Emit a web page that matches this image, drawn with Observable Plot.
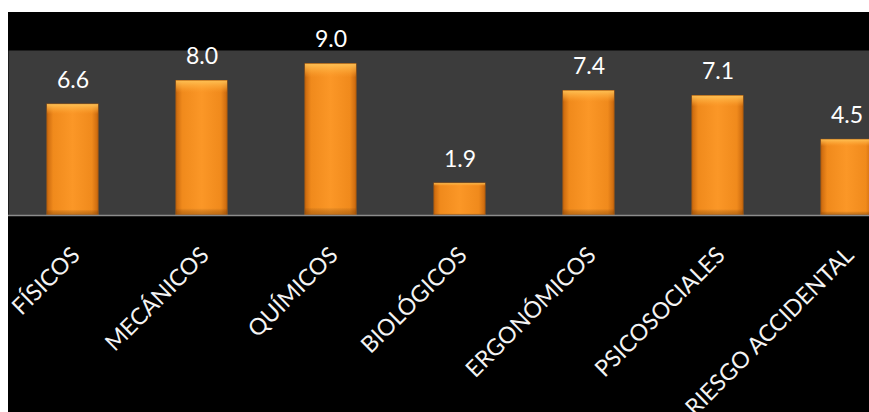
<!DOCTYPE html>
<html><head><meta charset="utf-8">
<script src="https://cdn.jsdelivr.net/npm/d3@7"></script>
<script src="https://cdn.jsdelivr.net/npm/@observablehq/plot@0.6"></script>
<style>
html,body{margin:0;padding:0;background:#fff;overflow:hidden;width:869px;height:412px}
#chart{position:absolute;left:8px;top:12px;width:861px;height:400px;background:#000;overflow:hidden}
</style></head><body><div id="chart"></div>
<script>
const categories = ["FÍSICOS", "MECÁNICOS", "QUÍMICOS", "BIOLÓGICOS", "ERGONÓMICOS", "PSICOSOCIALES", "RIESGO ACCIDENTAL"];
const values = [6.6, 8.0, 9.0, 1.9, 7.4, 7.1, 4.5];
const data = categories.map((c, i) => ({category: c, value: values[i]}));

const plot = Plot.plot({
  width: 861, height: 400,
  marginTop: 38, marginBottom: 197, marginLeft: 0, marginRight: 0,
  style: {background: "#000", color: "#fff", fontFamily: "Lato, sans-serif", overflow: "hidden"},
  x: {domain: categories, range: [0, 903], paddingInner: 0.605, paddingOuter: 0.302, axis: null},
  y: {domain: [0, 9.82], axis: null},
  marks: [
    Plot.frame({fill: "#3c3c3c", stroke: null}),
    Plot.barY(data, {x: "category", y: "value", fill: "url(#barGrad)", stroke: "#b8610c", strokeWidth: 1}),
    Plot.barY(data, {x: "category", y: "value", fill: "url(#barShade)"}),
    Plot.ruleY([0], {stroke: "#8c8c8c", strokeWidth: 1.5}),
    Plot.text(data, {x: "category", y: "value", text: d => d.value.toFixed(1), dy: -17, lineAnchor: "bottom", fill: "#fff", fontSize: 23}),
    Plot.text(data, {x: "category", y: () => 0, text: "category", rotate: -45, textAnchor: "end", dx: 3, dy: 36, fill: "#f4f4f4", fontSize: 23})
  ]
});

const defs = d3.select(plot).insert("defs", ":first-child");
const g1 = defs.append("linearGradient").attr("id", "barGrad").attr("x1", 0).attr("x2", 1).attr("y1", 0).attr("y2", 0);
[[0, "#c9680e"], [0.12, "#f08a1c"], [0.5, "#fb9727"], [0.88, "#f08a1c"], [1, "#c9680e"]]
  .forEach(([o, c]) => g1.append("stop").attr("offset", o).attr("stop-color", c));
const g2 = defs.append("linearGradient").attr("id", "barShade").attr("x1", 0).attr("x2", 0).attr("y1", 0).attr("y2", 1);
[[0, "#ffc65a", 0.9], [0.05, "#ffb040", 0.5], [0.09, "#ffa030", 0], [0.95, "#000", 0], [1, "#7a3c00", 0.4]]
  .forEach(([o, c, a]) => g2.append("stop").attr("offset", o).attr("stop-color", c).attr("stop-opacity", a));

document.getElementById("chart").appendChild(plot);
</script></body></html>
